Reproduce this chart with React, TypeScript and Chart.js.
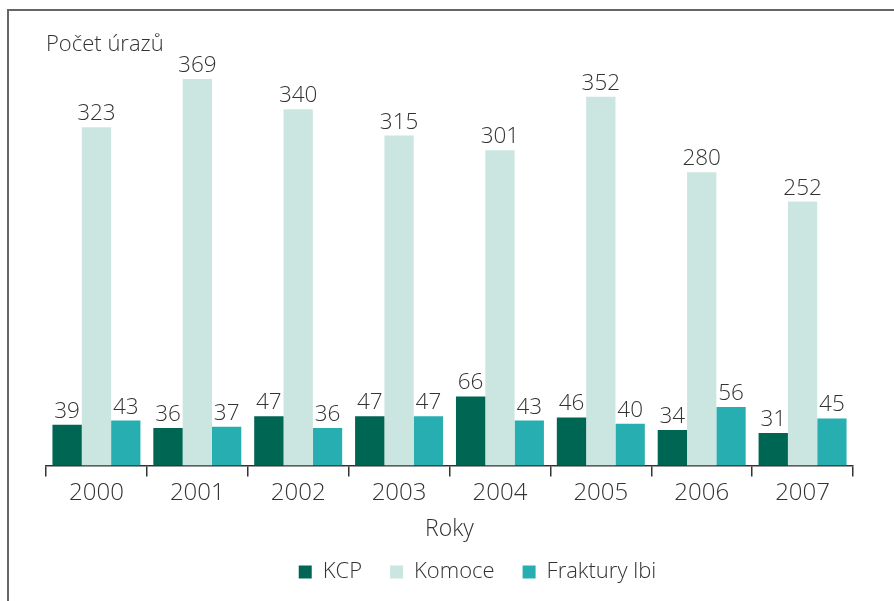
import React, { useEffect, useRef } from "react";
import { Chart, registerables } from "chart.js";

Chart.register(...registerables);

const categories = ["2000", "2001", "2002", "2003", "2004", "2005", "2006", "2007"];
const kcp = [39, 36, 47, 47, 66, 46, 34, 31];
const komoce = [323, 369, 340, 315, 301, 352, 280, 252];
const fraktury = [43, 37, 36, 47, 43, 40, 56, 45];
const seriesNames = ["KCP", "Komoce", "Fraktury lbi"];
const seriesColors = ["#006654", "#cbe6e1", "#27aeb0"];
const Y_MAX = 380;

const FONT = "'Open Sans', 'Noto Sans', sans-serif";
const TEXT = "#333333";
const W = "350";

const valueLabels = {
  id: "valueLabels",
  afterDatasetsDraw(chart: any) {
    const ctx = chart.ctx;
    ctx.save();
    ctx.font = `${W} 22.5px ${FONT}`;
    ctx.fillStyle = TEXT;
    ctx.textAlign = "center";
    ctx.textBaseline = "alphabetic";
    chart.data.datasets.forEach((ds: any, i: number) => {
      const meta = chart.getDatasetMeta(i);
      meta.data.forEach((bar: any, j: number) => {
        ctx.fillText(String(ds.data[j]), bar.x, bar.y - 7);
      });
    });
    ctx.restore();
  },
};

const legendShift = {
  id: "legendShift",
  afterLayout(chart: any) {
    const lg = chart.legend;
    if (lg) {
      lg.left += 28;
      lg.right += 28;
    }
  },
};

export default function App() {
  const ref = useRef<HTMLCanvasElement | null>(null);
  useEffect(() => {
    if (!ref.current) return;
    const chart = new Chart(ref.current, {
      type: "bar",
      data: {
        labels: categories,
        datasets: [kcp, komoce, fraktury].map((d, i) => ({
          label: seriesNames[i],
          data: d,
          backgroundColor: seriesColors[i],
          borderWidth: 0,
          barPercentage: 1,
          categoryPercentage: 0.872,
        })),
      },
      options: {
        responsive: false,
        animation: false,
        layout: { padding: { left: 37, right: 41, top: 8, bottom: 8 } },
        plugins: {
          title: {
            display: true,
            text: "Počet úrazů",
            align: "start",
            color: TEXT,
            font: { family: FONT, size: 22, weight: W },
            padding: { top: 13, bottom: 9 },
          },
          legend: {
            position: "bottom",
            labels: {
              boxWidth: 13,
              boxHeight: 13,
              padding: 28,
              color: TEXT,
              font: { family: FONT, size: 22, weight: W },
            },
          },
          tooltip: { enabled: false },
        },
        scales: {
          x: {
            grid: {
              display: true,
              drawOnChartArea: false,
              drawTicks: true,
              tickLength: 11,
              color: "#333",
              lineWidth: 1.5,
              offset: true,
            },
            border: { display: true, color: "#333", width: 1.5 },
            ticks: {
              color: TEXT,
              font: { family: FONT, size: 24, weight: W },
              padding: 2,
            },
            title: {
              display: true,
              text: "Roky",
              color: TEXT,
              font: { family: FONT, size: 23, weight: W },
              padding: { top: 6, bottom: -10 },
            },
          },
          y: {
            display: false,
            min: 0,
            max: Y_MAX,
          },
        },
      },
      plugins: [valueLabels, legendShift],
    });
    return () => chart.destroy();
  }, []);
  return (
    <div
      style={{
        position: "absolute",
        left: 7,
        top: 9,
        width: 887,
        height: 592,
        borderLeft: "2px solid #666",
        borderTop: "2px solid #666",
        boxSizing: "border-box",
        background: "#fff",
      }}
    >
      <canvas ref={ref} width={885} height={590} style={{ display: "block" }} />
    </div>
  );
}
